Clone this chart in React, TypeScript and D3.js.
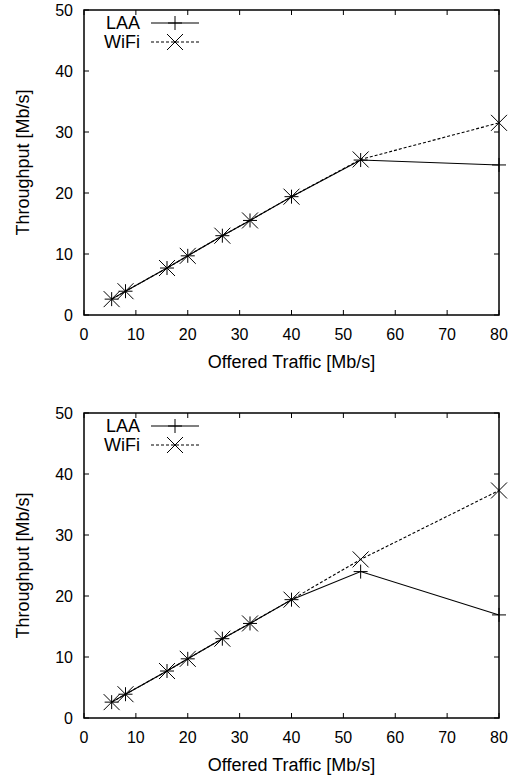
import React from "react";
import * as d3 from "d3";

const offered = [5.33, 8, 16, 20, 26.67, 32, 40, 53.33, 80];
const laaTop = [2.6, 3.9, 7.7, 9.7, 13.0, 15.5, 19.4, 25.4, 24.6];
const wifiTop = [2.6, 3.9, 7.7, 9.7, 13.0, 15.5, 19.4, 25.5, 31.5];
const laaBottom = [2.6, 3.9, 7.7, 9.7, 13.0, 15.5, 19.4, 24.0, 16.9];
const wifiBottom = [2.6, 3.9, 7.7, 9.7, 13.0, 15.5, 19.4, 26.0, 37.3];
const xTicks = [0, 10, 20, 30, 40, 50, 60, 70, 80];
const yTicks = [0, 10, 20, 30, 40, 50];
const seriesNames = ["LAA", "WiFi"];
const xTitle = "Offered Traffic [Mb/s]";
const yTitle = "Throughput [Mb/s]";

const FONT = "'Liberation Sans', Arial, Helvetica, sans-serif";

function Plus({ x, y, s = 7 }: { x: number; y: number; s?: number }) {
  return (
    <path d={`M${x - s},${y}H${x + s}M${x},${y - s}V${y + s}`} stroke="#000" strokeWidth={1} fill="none" />
  );
}
function Cross({ x, y, s = 8 }: { x: number; y: number; s?: number }) {
  return (
    <path
      d={`M${x - s},${y - s}L${x + s},${y + s}M${x - s},${y + s}L${x + s},${y - s}`}
      stroke="#000"
      strokeWidth={1}
      fill="none"
    />
  );
}

function Panel({ top, laa, wifi }: { top: number; laa: number[]; wifi: number[] }) {
  const left = 84;
  const right = 499;
  const bottom = top + 305;
  const x = d3.scaleLinear().domain([0, 80]).range([left, right]);
  const y = d3.scaleLinear().domain([0, 50]).range([bottom, top]);
  const line = d3
    .line<number>()
    .x((_, i) => x(offered[i]))
    .y((d) => y(d));
  const tl = 5;
  return (
    <g>
      {xTicks.map((t) => (
        <g key={"xt" + t}>
          <line x1={x(t)} x2={x(t)} y1={bottom} y2={bottom - tl} stroke="#000" strokeWidth={1} />
          <line x1={x(t)} x2={x(t)} y1={top} y2={top + tl} stroke="#000" strokeWidth={1} />
          <text x={x(t)} y={bottom + 25} textAnchor="middle" fontSize={16} fontFamily={FONT}>
            {t}
          </text>
        </g>
      ))}
      {yTicks.map((t) => (
        <g key={"yt" + t}>
          <line x1={left} x2={left + tl} y1={y(t)} y2={y(t)} stroke="#000" strokeWidth={1} />
          <line x1={right} x2={right - tl} y1={y(t)} y2={y(t)} stroke="#000" strokeWidth={1} />
          <text x={73} y={y(t) + 6} textAnchor="end" fontSize={16} fontFamily={FONT}>
            {t}
          </text>
        </g>
      ))}
      <rect x={left} y={top} width={right - left} height={bottom - top} fill="none" stroke="#000" strokeWidth={1.5} />
      <text x={(left + right) / 2} y={bottom + 53} textAnchor="middle" fontSize={18} fontFamily={FONT}>
        {xTitle}
      </text>
      <text
        transform={`translate(29,${(top + bottom) / 2}) rotate(-90)`}
        textAnchor="middle"
        fontSize={18}
        fontFamily={FONT}
      >
        {yTitle}
      </text>
      <path d={line(wifi) || ""} fill="none" stroke="#000" strokeWidth={1.1} strokeDasharray="3,2" />
      <path d={line(laa) || ""} fill="none" stroke="#000" strokeWidth={1.1} />
      {laa.map((v, i) => (
        <Plus key={"p" + i} x={x(offered[i])} y={y(v)} />
      ))}
      {wifi.map((v, i) => (
        <Cross key={"c" + i} x={x(offered[i])} y={y(v)} />
      ))}
      <text x={140} y={top + 19} textAnchor="end" fontSize={18} fontFamily={FONT}>
        {seriesNames[0]}
      </text>
      <line x1={151} x2={199} y1={top + 13} y2={top + 13} stroke="#000" strokeWidth={1.1} />
      <Plus x={175} y={top + 13} />
      <text x={140} y={top + 38} textAnchor="end" fontSize={18} fontFamily={FONT}>
        {seriesNames[1]}
      </text>
      <line x1={151} x2={199} y1={top + 32} y2={top + 32} stroke="#000" strokeWidth={1.1} strokeDasharray="3,2" />
      <Cross x={175} y={top + 32} />
    </g>
  );
}

export default function App() {
  return (
    <svg
      width={529}
      height={779}
      style={{ position: "absolute", left: 0, top: 0, background: "#fff" }}
    >
      <rect width={529} height={779} fill="#fff" />
      <Panel top={10} laa={laaTop} wifi={wifiTop} />
      <Panel top={413} laa={laaBottom} wifi={wifiBottom} />
    </svg>
  );
}
